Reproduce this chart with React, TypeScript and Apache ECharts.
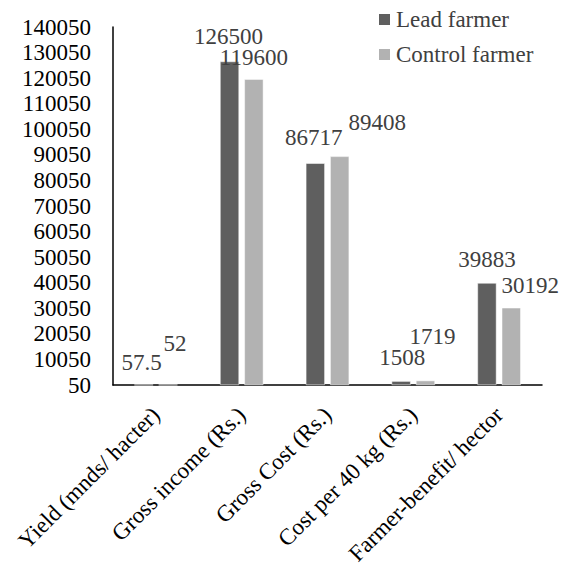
import React, { useEffect, useRef } from "react";
import * as echarts from "echarts";

const categories = [
  "Yield (mnds/ hacter)",
  "Gross income (Rs.)",
  "Gross Cost (Rs.)",
  "Cost per 40 kg (Rs.)",
  "Farmer-benefit/ hector",
];
const leadFarmer = [57.5, 126500, 86717, 1508, 39883];
const controlFarmer = [52, 119600, 89408, 1719, 30192];
const leadLabelOffsets = [[-2, -11], [-1, -14], [-1.5, -14], [1, -12.5], [0, -12.5]];
const controlLabelOffsets = [[7, -29.5], [0, -10], [37.5, -22], [7, -33], [19, -11]];
const axisLabelShift = 50;

const FONT = "Liberation Serif";

export default function App() {
  const ref = useRef<HTMLDivElement>(null);
  useEffect(() => {
    if (!ref.current) return;
    const chart = echarts.init(ref.current, null, { renderer: "svg" });
    const mk = (vals: number[], offs: number[][]) =>
      vals.map((v, i) => ({
        value: v,
        label: { offset: offs[i] },
      }));
    chart.setOption({
      animation: false,
      legend: {
        orient: "vertical",
        left: 364,
        top: -5,
        itemWidth: 13,
        itemHeight: 13,
        itemGap: 12,
        icon: "rect",
        textStyle: { color: "#404040", fontSize: 23, fontFamily: FONT },
        data: ["Lead farmer", "Control farmer"],
      },
      grid: {
        left: 105,
        right: 19,
        top: 19,
        bottom: 186,
        containLabel: false,
        outerBoundsMode: "none",
      },
      xAxis: {
        type: "category",
        data: categories,
        axisLine: { lineStyle: { color: "#000", width: 1.5 } },
        axisTick: { show: false },
        axisLabel: {
          rotate: 45,
          interval: 0,
          margin: 26,
          fontFamily: FONT,
          fontSize: 23,
          color: "#000",
        },
      },
      yAxis: {
        type: "value",
        min: 0,
        max: 140000,
        interval: 10000,
        axisLine: { show: true, lineStyle: { color: "#000", width: 1.5 } },
        axisTick: { show: false },
        splitLine: { show: false },
        axisLabel: {
          margin: 22,
          fontFamily: FONT,
          fontSize: 23,
          color: "#000",
          formatter: (v: number) => String(v + axisLabelShift),
        },
      },
      series: [
        {
          name: "Lead farmer",
          type: "bar",
          data: mk(leadFarmer, leadLabelOffsets),
          barWidth: 19,
          barGap: "28%",
          itemStyle: { color: "#5f5f5f", borderColor: "#ffffff", borderWidth: 0.5 },
          label: {
            show: true,
            position: "top",
            distance: 0,
            fontFamily: FONT,
            fontSize: 23,
            color: "#404040",
          },
        },
        {
          name: "Control farmer",
          type: "bar",
          data: mk(controlFarmer, controlLabelOffsets),
          barWidth: 19,
          itemStyle: { color: "#b2b2b2", borderColor: "#ffffff", borderWidth: 0.5 },
          label: {
            show: true,
            position: "top",
            distance: 0,
            fontFamily: FONT,
            fontSize: 23,
            color: "#404040",
          },
        },
      ],
    });
    return () => chart.dispose();
  }, []);
  return <div ref={ref} style={{ width: 553, height: 563 }} />;
}
